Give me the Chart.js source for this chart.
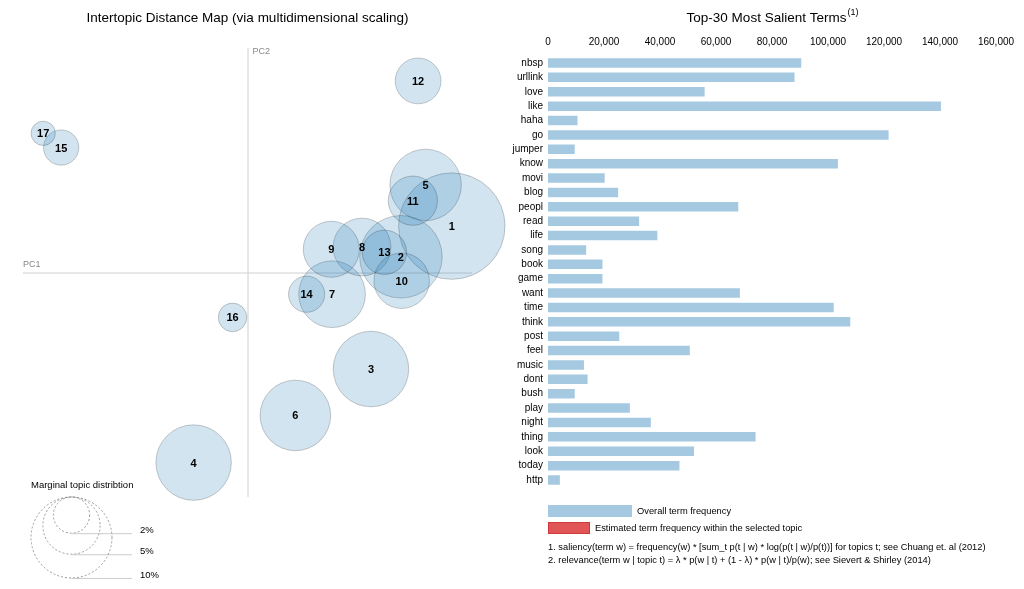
<!DOCTYPE html>
<html>
<head>
<meta charset="utf-8">
<title>LDAvis</title>
<script src="https://cdn.jsdelivr.net/npm/chart.js@4.4.1/dist/chart.umd.min.js"></script>
<style>
  html, body { margin: 0; padding: 0; background: #fff; }
  #wrap { position: relative; width: 1024px; height: 589px; overflow: hidden; }
  #topicMap { position: absolute; left: 0; top: 0; }
  #termBars { position: absolute; left: 500px; top: 0; }
</style>
</head>
<body>
<div id="wrap">
  <canvas id="topicMap" width="512" height="589"></canvas>
  <canvas id="termBars" width="524" height="589"></canvas>
</div>
<script>
// topics: PC1 / PC2 coordinates and marginal distribution (%)
const topicIds = ['1','2','3','4','5','6','7','8','9','10','11','12','13','14','15','16','17'];
const topicPC1 = [0.273, 0.205, 0.165, -0.072, 0.238, 0.064, 0.113, 0.153, 0.112, 0.206, 0.221, 0.228, 0.183, 0.079, -0.249, -0.020, -0.273];
const topicPC2 = [0.062, 0.021, -0.129, -0.254, 0.117, -0.191, -0.029, 0.034, 0.031, -0.011, 0.096, 0.256, 0.027, -0.029, 0.167, -0.060, 0.186];
const topicPct = [17.3, 10.4, 8.7, 8.7, 7.8, 7.6, 6.8, 5.1, 4.8, 4.7, 3.7, 3.2, 3.0, 2.0, 1.9, 1.25, 0.9];
const sizeLegend = [2, 5, 10];

// top-30 salient terms and their overall frequency
const terms = ['nbsp','urllink','love','like','haha','go','jumper','know','movi','blog','peopl','read','life','song','book','game','want','time','think','post','feel','music','dont','bush','play','night','thing','look','today','http'];
const termFreq = [90800, 88400, 56300, 140700, 10900, 122000, 9900, 103900, 20600, 25400, 68300, 32900, 39400, 14000, 19800, 19800, 68900, 102400, 108300, 25800, 51000, 13200, 14500, 9900, 29600, 37100, 74500, 52500, 47300, 4600];
const freqTicks = [0, 20000, 40000, 60000, 80000, 100000, 120000, 140000, 160000];

const FONT = '"Liberation Sans", Arial, Helvetica, sans-serif';
const radiusScale = 12.8; // px per sqrt(%)

// axes lines + PC labels, drawn behind bubbles
const pcAxes = {
    id: 'pcAxes',
    beforeDatasetsDraw(chart) {
        const {ctx, chartArea, scales} = chart;
        const x0 = scales.x.getPixelForValue(0);
        const y0 = scales.y.getPixelForValue(0);
        ctx.save();
        ctx.strokeStyle = '#d0d0d0';
        ctx.lineWidth = 1;
        ctx.beginPath();
        ctx.moveTo(chartArea.left, y0 + 0.5);
        ctx.lineTo(chartArea.right, y0 + 0.5);
        ctx.moveTo(x0 + 0.5, chartArea.top);
        ctx.lineTo(x0 + 0.5, chartArea.bottom);
        ctx.stroke();
        ctx.fillStyle = '#888';
        ctx.font = '9px ' + FONT;
        ctx.textBaseline = 'bottom';
        ctx.fillText('PC1', chartArea.left, y0 - 3);
        ctx.textBaseline = 'top';
        ctx.fillText('PC2', x0 + 5, chartArea.top - 1);
        ctx.restore();
    },
    afterDatasetsDraw(chart) {
        const {ctx} = chart;
        const meta = chart.getDatasetMeta(0);
        ctx.save();
        ctx.fillStyle = '#000';
        ctx.font = 'bold 11px ' + FONT;
        ctx.textAlign = 'center';
        ctx.textBaseline = 'middle';
        meta.data.forEach((el, i) => {
            ctx.fillText(topicIds[i], el.x, el.y + 1);
        });

        // marginal topic distribution legend
        const cx = 71.5, top = 497;
        ctx.font = '9.5px ' + FONT;
        ctx.textAlign = 'left';
        ctx.textBaseline = 'alphabetic';
        ctx.fillText('Marginal topic distribtion', 31, 488);
        sizeLegend.forEach(p => {
            const r = radiusScale * Math.sqrt(p);
            const bottom = top + 2 * r;
            ctx.strokeStyle = '#999';
            ctx.setLineDash([2, 2]);
            ctx.beginPath();
            ctx.arc(cx, top + r, r, 0, Math.PI * 2);
            ctx.stroke();
            ctx.setLineDash([]);
            ctx.strokeStyle = '#ccc';
            ctx.beginPath();
            ctx.moveTo(cx, bottom + 0.5);
            ctx.lineTo(132, bottom + 0.5);
            ctx.stroke();
            ctx.fillStyle = '#000';
            ctx.fillText(p + '%', 140, bottom);
        });
        ctx.restore();
    }
};

new Chart(document.getElementById('topicMap'), {
    type: 'bubble',
    data: {
        datasets: [{
            data: topicPC1.map((x, i) => ({x: x, y: topicPC2[i], r: radiusScale * Math.sqrt(topicPct[i])})),
            backgroundColor: 'rgba(31,119,180,0.2)',
            borderColor: 'rgba(0,0,0,0.2)',
            borderWidth: 1,
            clip: false
        }]
    },
    options: {
        responsive: false,
        animation: false,
        layout: { autoPadding: false, padding: { left: 23, right: 40, top: 0, bottom: 92 } },
        scales: {
            x: { display: false, min: -0.3, max: 0.3 },
            y: { display: false, min: -0.3, max: 0.3 }
        },
        plugins: {
            legend: { display: false },
            tooltip: { enabled: false },
            title: {
                display: true,
                text: 'Intertopic Distance Map (via multidimensional scaling)',
                color: '#000',
                font: { family: FONT, size: 13.5, weight: 'normal' },
                padding: { top: 10, bottom: 21.8 }
            }
        }
    },
    plugins: [pcAxes]
});

// title with superscript, legend boxes and footnotes for the bar panel
const barNotes = {
    id: 'barNotes',
    afterDraw(chart) {
        const {ctx, chartArea} = chart;
        const left = chartArea.left;
        const mid = (chartArea.left + chartArea.right) / 2;
        ctx.save();
        ctx.fillStyle = '#000';
        ctx.textBaseline = 'alphabetic';
        const main = 'Top-30 Most Salient Terms';
        ctx.font = '13.5px ' + FONT;
        const w1 = ctx.measureText(main).width;
        ctx.font = '9px ' + FONT;
        const w2 = ctx.measureText('(1)').width;
        const sx = mid - (w1 + w2) / 2;
        ctx.font = '13.5px ' + FONT;
        ctx.fillText(main, sx, 22);
        ctx.font = '9px ' + FONT;
        ctx.fillText('(1)', sx + w1 + 1, 15);

        ctx.fillStyle = 'rgba(31,119,180,0.4)';
        ctx.fillRect(left, 505, 84, 12);
        ctx.fillStyle = '#e05555';
        ctx.fillRect(left, 522, 42, 12);
        ctx.strokeStyle = '#d03a3a';
        ctx.strokeRect(left + 0.5, 522.5, 41, 11);

        ctx.fillStyle = '#000';
        ctx.font = '9.3px ' + FONT;
        ctx.textBaseline = 'middle';
        ctx.fillText('Overall term frequency', left + 89, 511);
        ctx.fillText('Estimated term frequency within the selected topic', left + 47, 528);
        ctx.fillText('1. saliency(term w) = frequency(w) * [sum_t p(t | w) * log(p(t | w)/p(t))] for topics t; see Chuang et. al (2012)', left, 547);
        ctx.fillText('2. relevance(term w | topic t) = \u03bb * p(w | t) + (1 - \u03bb) * p(w | t)/p(w); see Sievert & Shirley (2014)', left, 560);
        ctx.restore();
    }
};

new Chart(document.getElementById('termBars'), {
    type: 'bar',
    data: {
        labels: terms,
        datasets: [{
            data: termFreq,
            backgroundColor: 'rgba(31,119,180,0.4)',
            borderColor: 'rgba(255,255,255,0.35)',
            borderWidth: 1,
            barPercentage: 0.8,
            categoryPercentage: 1.0
        }]
    },
    options: {
        indexAxis: 'y',
        responsive: false,
        animation: false,
        layout: { padding: { left: 0, right: 28, top: 0, bottom: 101.8 } },
        scales: {
            x: {
                position: 'top',
                min: 0,
                max: 160000,
                afterFit: s => { s.height = 55.8; },
                afterBuildTicks: s => { s.ticks = freqTicks.map(v => ({value: v})); },
                grid: { display: false, drawTicks: false },
                border: { display: false },
                ticks: {
                    padding: 7.5,
                    color: '#000',
                    font: { family: FONT, size: 10 },
                    maxRotation: 0,
                    callback: v => v.toLocaleString('en-US')
                }
            },
            y: {
                afterFit: s => { s.width = 48; },
                grid: { display: false, drawTicks: false },
                border: { display: false },
                ticks: {
                    padding: 5,
                    color: '#000',
                    font: { family: FONT, size: 10 },
                    autoSkip: false
                }
            }
        },
        plugins: {
            legend: { display: false },
            tooltip: { enabled: false }
        }
    },
    plugins: [barNotes]
});
</script>
</body>
</html>
